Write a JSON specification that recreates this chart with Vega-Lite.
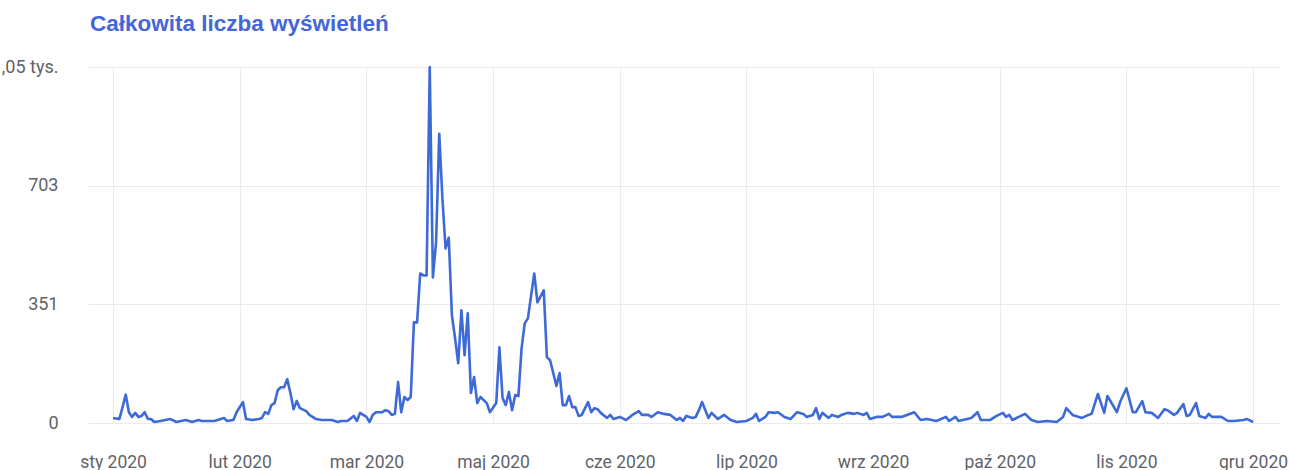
{
  "$schema": "https://vega.github.io/schema/vega-lite/v6.json",
  "autosize": {"type": "none"},
  "padding": {"left": 88, "top": 67, "right": 10, "bottom": 47},
  "width": 1192,
  "height": 356,
  "background": "#ffffff",
  "title": {
    "text": "Całkowita liczba wyświetleń",
    "anchor": "start",
    "frame": "group",
    "dx": 2,
    "offset": 23,
    "font": "Liberation Sans",
    "fontSize": 22.5,
    "fontWeight": "bold",
    "color": "#4566d8"
  },
  "config": {
    "view": {"stroke": null},
    "axis": {
      "domain": false,
      "ticks": false,
      "gridColor": "#ebebeb",
      "gridWidth": 1,
      "labelFont": "Roboto",
      "labelFontSize": 17,
      "labelColor": "#5f6368",
      "title": null
    }
  },
  "data": {
    "values": [
      {"date": "2020-01-05", "views": 15},
      {"date": "2020-01-07", "views": 12},
      {"date": "2020-01-08", "views": 47},
      {"date": "2020-01-09", "views": 84},
      {"date": "2020-01-10", "views": 32},
      {"date": "2020-01-11", "views": 18},
      {"date": "2020-01-12", "views": 30},
      {"date": "2020-01-13", "views": 18},
      {"date": "2020-01-14", "views": 21},
      {"date": "2020-01-15", "views": 32},
      {"date": "2020-01-16", "views": 12},
      {"date": "2020-01-17", "views": 12},
      {"date": "2020-01-18", "views": 3},
      {"date": "2020-01-20", "views": 6},
      {"date": "2020-01-23", "views": 12},
      {"date": "2020-01-25", "views": 3},
      {"date": "2020-01-28", "views": 9},
      {"date": "2020-01-30", "views": 3},
      {"date": "2020-02-01", "views": 9},
      {"date": "2020-02-02", "views": 6},
      {"date": "2020-02-05", "views": 6},
      {"date": "2020-02-06", "views": 6},
      {"date": "2020-02-09", "views": 15},
      {"date": "2020-02-10", "views": 6},
      {"date": "2020-02-12", "views": 9},
      {"date": "2020-02-13", "views": 32},
      {"date": "2020-02-15", "views": 62},
      {"date": "2020-02-16", "views": 12},
      {"date": "2020-02-18", "views": 9},
      {"date": "2020-02-20", "views": 12},
      {"date": "2020-02-21", "views": 15},
      {"date": "2020-02-22", "views": 32},
      {"date": "2020-02-23", "views": 27},
      {"date": "2020-02-24", "views": 53},
      {"date": "2020-02-25", "views": 59},
      {"date": "2020-02-26", "views": 97},
      {"date": "2020-02-27", "views": 106},
      {"date": "2020-02-28", "views": 106},
      {"date": "2020-02-29", "views": 130},
      {"date": "2020-03-01", "views": 89},
      {"date": "2020-03-02", "views": 41},
      {"date": "2020-03-03", "views": 65},
      {"date": "2020-03-04", "views": 44},
      {"date": "2020-03-06", "views": 35},
      {"date": "2020-03-07", "views": 24},
      {"date": "2020-03-09", "views": 12},
      {"date": "2020-03-11", "views": 9},
      {"date": "2020-03-14", "views": 9},
      {"date": "2020-03-16", "views": 3},
      {"date": "2020-03-17", "views": 6},
      {"date": "2020-03-19", "views": 6},
      {"date": "2020-03-21", "views": 21},
      {"date": "2020-03-22", "views": 6},
      {"date": "2020-03-23", "views": 30},
      {"date": "2020-03-25", "views": 18},
      {"date": "2020-03-26", "views": 3},
      {"date": "2020-03-27", "views": 24},
      {"date": "2020-03-28", "views": 32},
      {"date": "2020-03-30", "views": 32},
      {"date": "2020-03-31", "views": 38},
      {"date": "2020-04-01", "views": 35},
      {"date": "2020-04-02", "views": 24},
      {"date": "2020-04-03", "views": 27},
      {"date": "2020-04-04", "views": 121},
      {"date": "2020-04-05", "views": 32},
      {"date": "2020-04-06", "views": 77},
      {"date": "2020-04-07", "views": 68},
      {"date": "2020-04-08", "views": 77},
      {"date": "2020-04-09", "views": 298},
      {"date": "2020-04-10", "views": 298},
      {"date": "2020-04-11", "views": 443},
      {"date": "2020-04-12", "views": 437},
      {"date": "2020-04-13", "views": 437},
      {"date": "2020-04-14", "views": 1054},
      {"date": "2020-04-15", "views": 431},
      {"date": "2020-04-16", "views": 535},
      {"date": "2020-04-17", "views": 857},
      {"date": "2020-04-18", "views": 665},
      {"date": "2020-04-19", "views": 517},
      {"date": "2020-04-20", "views": 549},
      {"date": "2020-04-21", "views": 319},
      {"date": "2020-04-22", "views": 251},
      {"date": "2020-04-23", "views": 177},
      {"date": "2020-04-24", "views": 334},
      {"date": "2020-04-25", "views": 201},
      {"date": "2020-04-26", "views": 325},
      {"date": "2020-04-27", "views": 89},
      {"date": "2020-04-28", "views": 136},
      {"date": "2020-04-29", "views": 59},
      {"date": "2020-04-30", "views": 77},
      {"date": "2020-05-02", "views": 59},
      {"date": "2020-05-03", "views": 32},
      {"date": "2020-05-05", "views": 59},
      {"date": "2020-05-06", "views": 224},
      {"date": "2020-05-07", "views": 74},
      {"date": "2020-05-08", "views": 53},
      {"date": "2020-05-09", "views": 92},
      {"date": "2020-05-10", "views": 38},
      {"date": "2020-05-11", "views": 83},
      {"date": "2020-05-12", "views": 80},
      {"date": "2020-05-13", "views": 221},
      {"date": "2020-05-14", "views": 295},
      {"date": "2020-05-15", "views": 310},
      {"date": "2020-05-17", "views": 443},
      {"date": "2020-05-18", "views": 357},
      {"date": "2020-05-20", "views": 393},
      {"date": "2020-05-21", "views": 195},
      {"date": "2020-05-22", "views": 186},
      {"date": "2020-05-24", "views": 110},
      {"date": "2020-05-25", "views": 148},
      {"date": "2020-05-26", "views": 53},
      {"date": "2020-05-27", "views": 53},
      {"date": "2020-05-28", "views": 80},
      {"date": "2020-05-29", "views": 47},
      {"date": "2020-05-30", "views": 47},
      {"date": "2020-05-31", "views": 21},
      {"date": "2020-06-01", "views": 24},
      {"date": "2020-06-03", "views": 62},
      {"date": "2020-06-04", "views": 32},
      {"date": "2020-06-05", "views": 44},
      {"date": "2020-06-06", "views": 41},
      {"date": "2020-06-07", "views": 30},
      {"date": "2020-06-09", "views": 15},
      {"date": "2020-06-10", "views": 24},
      {"date": "2020-06-11", "views": 12},
      {"date": "2020-06-13", "views": 18},
      {"date": "2020-06-15", "views": 9},
      {"date": "2020-06-17", "views": 24},
      {"date": "2020-06-19", "views": 35},
      {"date": "2020-06-20", "views": 24},
      {"date": "2020-06-22", "views": 24},
      {"date": "2020-06-23", "views": 18},
      {"date": "2020-06-25", "views": 32},
      {"date": "2020-06-27", "views": 27},
      {"date": "2020-06-29", "views": 24},
      {"date": "2020-07-01", "views": 9},
      {"date": "2020-07-02", "views": 15},
      {"date": "2020-07-03", "views": 6},
      {"date": "2020-07-04", "views": 21},
      {"date": "2020-07-06", "views": 15},
      {"date": "2020-07-07", "views": 18},
      {"date": "2020-07-08", "views": 38},
      {"date": "2020-07-09", "views": 62},
      {"date": "2020-07-11", "views": 15},
      {"date": "2020-07-12", "views": 30},
      {"date": "2020-07-14", "views": 12},
      {"date": "2020-07-16", "views": 24},
      {"date": "2020-07-18", "views": 9},
      {"date": "2020-07-20", "views": 3},
      {"date": "2020-07-23", "views": 6},
      {"date": "2020-07-25", "views": 15},
      {"date": "2020-07-26", "views": 27},
      {"date": "2020-07-27", "views": 6},
      {"date": "2020-07-29", "views": 18},
      {"date": "2020-07-30", "views": 32},
      {"date": "2020-08-01", "views": 30},
      {"date": "2020-08-02", "views": 32},
      {"date": "2020-08-04", "views": 18},
      {"date": "2020-08-06", "views": 12},
      {"date": "2020-08-08", "views": 32},
      {"date": "2020-08-10", "views": 27},
      {"date": "2020-08-11", "views": 18},
      {"date": "2020-08-13", "views": 24},
      {"date": "2020-08-14", "views": 44},
      {"date": "2020-08-15", "views": 12},
      {"date": "2020-08-16", "views": 30},
      {"date": "2020-08-18", "views": 15},
      {"date": "2020-08-19", "views": 24},
      {"date": "2020-08-21", "views": 18},
      {"date": "2020-08-22", "views": 24},
      {"date": "2020-08-24", "views": 30},
      {"date": "2020-08-26", "views": 27},
      {"date": "2020-08-27", "views": 30},
      {"date": "2020-08-29", "views": 24},
      {"date": "2020-08-30", "views": 30},
      {"date": "2020-08-31", "views": 12},
      {"date": "2020-09-02", "views": 18},
      {"date": "2020-09-04", "views": 18},
      {"date": "2020-09-06", "views": 27},
      {"date": "2020-09-07", "views": 18},
      {"date": "2020-09-10", "views": 18},
      {"date": "2020-09-14", "views": 32},
      {"date": "2020-09-16", "views": 9},
      {"date": "2020-09-18", "views": 12},
      {"date": "2020-09-21", "views": 6},
      {"date": "2020-09-24", "views": 18},
      {"date": "2020-09-25", "views": 6},
      {"date": "2020-09-27", "views": 18},
      {"date": "2020-09-28", "views": 6},
      {"date": "2020-10-02", "views": 15},
      {"date": "2020-10-04", "views": 32},
      {"date": "2020-10-05", "views": 9},
      {"date": "2020-10-08", "views": 9},
      {"date": "2020-10-10", "views": 21},
      {"date": "2020-10-12", "views": 30},
      {"date": "2020-10-13", "views": 18},
      {"date": "2020-10-14", "views": 24},
      {"date": "2020-10-15", "views": 9},
      {"date": "2020-10-17", "views": 18},
      {"date": "2020-10-19", "views": 27},
      {"date": "2020-10-21", "views": 9},
      {"date": "2020-10-23", "views": 3},
      {"date": "2020-10-26", "views": 6},
      {"date": "2020-10-29", "views": 3},
      {"date": "2020-10-31", "views": 18},
      {"date": "2020-11-01", "views": 44},
      {"date": "2020-11-03", "views": 24},
      {"date": "2020-11-04", "views": 21},
      {"date": "2020-11-06", "views": 15},
      {"date": "2020-11-08", "views": 24},
      {"date": "2020-11-09", "views": 27},
      {"date": "2020-11-11", "views": 86},
      {"date": "2020-11-13", "views": 30},
      {"date": "2020-11-14", "views": 80},
      {"date": "2020-11-17", "views": 32},
      {"date": "2020-11-18", "views": 62},
      {"date": "2020-11-20", "views": 103},
      {"date": "2020-11-21", "views": 68},
      {"date": "2020-11-22", "views": 32},
      {"date": "2020-11-23", "views": 32},
      {"date": "2020-11-25", "views": 65},
      {"date": "2020-11-26", "views": 32},
      {"date": "2020-11-28", "views": 30},
      {"date": "2020-11-30", "views": 15},
      {"date": "2020-12-02", "views": 41},
      {"date": "2020-12-03", "views": 38},
      {"date": "2020-12-05", "views": 24},
      {"date": "2020-12-06", "views": 30},
      {"date": "2020-12-08", "views": 56},
      {"date": "2020-12-09", "views": 21},
      {"date": "2020-12-10", "views": 24},
      {"date": "2020-12-12", "views": 59},
      {"date": "2020-12-13", "views": 21},
      {"date": "2020-12-15", "views": 15},
      {"date": "2020-12-16", "views": 27},
      {"date": "2020-12-17", "views": 18},
      {"date": "2020-12-20", "views": 18},
      {"date": "2020-12-22", "views": 6},
      {"date": "2020-12-24", "views": 6},
      {"date": "2020-12-27", "views": 9},
      {"date": "2020-12-28", "views": 12},
      {"date": "2020-12-30", "views": 3}
    ]
  },
  "mark": {"type": "line", "color": "#3d6ad6", "strokeWidth": 2.6, "strokeJoin": "round", "clip": false},
  "encoding": {
    "x": {
      "field": "date",
      "type": "temporal",
      "scale": {
        "type": "utc",
        "domain": [
          {"year": 2019, "month": 12, "date": 28, "hours": 2, "utc": true},
          {"year": 2021, "month": 1, "date": 7, "hours": 12, "utc": true}
        ]
      },
      "axis": {
        "values": [
          {"year": 2020, "month": 1, "date": 5, "utc": true},
          {"year": 2020, "month": 2, "date": 14, "utc": true},
          {"year": 2020, "month": 3, "date": 25, "utc": true},
          {"year": 2020, "month": 5, "date": 4, "utc": true},
          {"year": 2020, "month": 6, "date": 13, "utc": true},
          {"year": 2020, "month": 7, "date": 23, "utc": true},
          {"year": 2020, "month": 9, "date": 1, "utc": true},
          {"year": 2020, "month": 10, "date": 11, "utc": true},
          {"year": 2020, "month": 11, "date": 20, "utc": true},
          {"year": 2020, "month": 12, "date": 30, "utc": true}
        ],
        "labelExpr": "['sty','lut','mar','kwi','maj','cze','lip','sie','wrz','paź','lis','gru'][utcmonth(datum.value)] + ' ' + utcyear(datum.value)",
        "labelPadding": 30,
        "labelFontSize": 17.5,
        "labelFlush": false,
        "labelOverlap": false,
        "grid": true
      }
    },
    "y": {
      "field": "views",
      "type": "quantitative",
      "scale": {"domain": [0, 1054.5], "nice": false, "zero": true},
      "axis": {
        "values": [0, 351.5, 703, 1054.5],
        "labelExpr": "datum.value == 0 ? '0' : datum.value < 400 ? '351' : datum.value < 800 ? '703' : '1,05 tys.'",
        "labelPadding": 30,
        "labelFontSize": 18,
        "grid": true
      }
    }
  }
}
